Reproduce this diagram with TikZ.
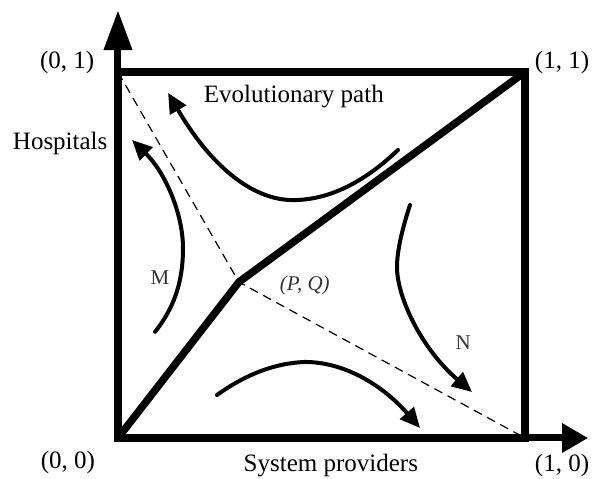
\documentclass[tikz,border=0pt]{standalone}
\usepackage{fontspec}
\setmainfont{Liberation Serif}
\usetikzlibrary{arrows.meta,positioning}
\tikzset{
  frame/.style={line width=7.5pt,line join=miter},
  axis/.style={line width=7pt},
  flow/.style={line width=4pt,line cap=round,-{Triangle[length=20pt,width=18pt]}},
  guide/.style={line width=1.2pt,dash pattern=on 9pt off 6pt},
  lbl/.style={font=\fontsize{25}{29}\selectfont,inner sep=0pt},
  tag/.style={font=\fontsize{21}{25}\selectfont,text=black!80,inner sep=0pt},
}

\begin{document}
\begin{tikzpicture}[x=407pt,y=366pt]
  \useasboundingbox (-0.2899,-0.112) rectangle (1.1769,1.1967);
  % corners of the unit square and the saddle point
  \coordinate (O) at (0,0);
  \coordinate (X1) at (1,0);
  \coordinate (XY) at (1,1);
  \coordinate (Y1) at (0,1);
  \coordinate (PQ) at (0.297,0.426);
  \coordinate (xend) at (1.155,0);
  \coordinate (yend) at (0,1.169);

  \draw[axis,-{Triangle[length=26pt,width=28pt]}] (O) -- (xend);
  \draw[axis,-{Triangle[length=40pt,width=27pt]}] (O) -- (yend);
  \draw[frame] (O) rectangle (XY);
  \draw[frame] (O) -- (PQ) -- (XY);
  \draw[guide] (Y1) -- (PQ) -- (X1);

  % flow arrows: start, turning point, tip
  \coordinate (top0) at (0.688,0.787);
  \coordinate (topv) at (0.430,0.650);
  \coordinate (top1) at (0.123,0.943);
  \coordinate (m0) at (0.091,0.290);
  \coordinate (mv) at (0.1597,0.5191);
  \coordinate (m1) at (0.0344,0.8142);
  \coordinate (n0) at (0.7174,0.6366);
  \coordinate (nv) at (0.6855,0.4672);
  \coordinate (n1) at (0.8698,0.1257);
  \coordinate (bot0) at (0.2432,0.1175);
  \coordinate (botv) at (0.4595,0.2077);
  \coordinate (bot1) at (0.7420,0.0273);
  \draw[flow] (top0) .. controls (0.602,0.696) and (0.516,0.650) .. (topv)
                     .. controls (0.3275,0.650) and (0.2253,0.748) .. (top1);
  \draw[flow] (m0) .. controls (0.1512,0.3735) and (0.1597,0.4571) .. (mv)
                   .. controls (0.1597,0.6102) and (0.1179,0.7232) .. (m1);
  \draw[flow] (n0) .. controls (0.6961,0.5631) and (0.6855,0.5074) .. (nv)
                   .. controls (0.6855,0.3833) and (0.7469,0.2423) .. (n1);
  \draw[flow] (bot0) .. controls (0.3152,0.1749) and (0.3875,0.2049) .. (botv)
                     .. controls (0.5536,0.2077) and (0.6478,0.1475) .. (bot1);

  % labels
  \foreach \n/\x/\y/\t in {l00/-0.123/-0.068/{(0, 0)}, l10/1.091/-0.074/{(1, 0)},
                           l01/-0.125/1.027/{(0, 1)}, l11/1.091/1.027/{(1, 1)}}
  {
    \node[lbl] (\n) at (\x,\y) {\t};
  }
  \node[lbl] (hosp) at (-0.142,0.806) {Hospitals};
  \node[lbl] (sysp) at (0.523,-0.074) {System providers};
  \node[lbl] (evo) at (0.432,0.932) {Evolutionary path};
  \node[tag] (mlab) at (0.103,0.437) {M};
  \node[tag] (nlab) at (0.848,0.260) {N};
  \node[tag,font=\fontsize{21}{25}\selectfont\itshape] (pqlab) at (0.459,0.418) {(P, Q)};
\end{tikzpicture}
\end{document}
